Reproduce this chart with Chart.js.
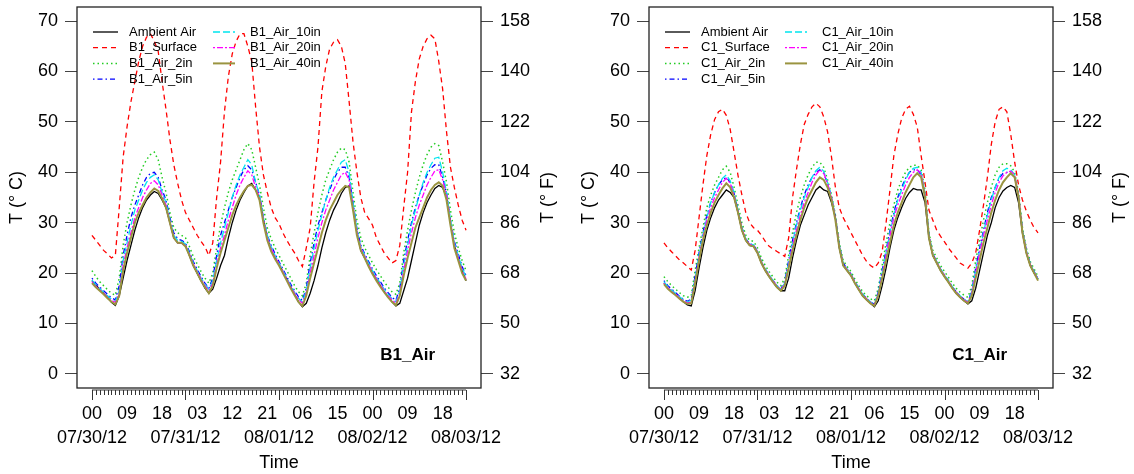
<!DOCTYPE html>
<html>
<head>
<meta charset="utf-8">
<script src="https://cdn.jsdelivr.net/npm/chart.js@4.4.1/dist/chart.umd.min.js"></script>
<style>
  html, body { margin: 0; padding: 0; background: #ffffff; }
  #wrap { position: relative; width: 1134px; height: 474px; background: #ffffff; overflow: hidden; }
  #c1 { position: absolute; left: 0; top: 0; }
  #c2 { position: absolute; left: 572px; top: 0; }
</style>
</head>
<body>
<div id="wrap">
  <canvas id="c1" width="567" height="474"></canvas>
  <canvas id="c2" width="562" height="474"></canvas>
</div>
<script>
// ---------- categories / tick labels ----------
const hours = Array.from({length: 97}, (_, i) => i); // hours since 07/30/12 00:00
const hourTickPos = [0, 9, 18, 27, 36, 45, 54, 63, 72, 81, 90];
const hourTickLabels = ['00', '09', '18', '03', '12', '21', '06', '15', '00', '09', '18'];
const dateTickPos = [0, 24, 48, 72, 96];
const dateTickLabels = ['07/30/12', '07/31/12', '08/01/12', '08/02/12', '08/03/12'];
const cTicks = [0, 10, 20, 30, 40, 50, 60, 70];
const fTicks = [32, 50, 68, 86, 104, 122, 140, 158];

// ---------- Panel B1 (deg C, hourly) ----------
const b1Ambient = [
  18.5,17.6,16.8,16.0,15.2,14.2,13.6,15.5,19.0,22.5,25.5,28.5,
  31.0,33.0,34.5,35.5,36.2,35.8,34.5,33.0,30.0,27.0,26.0,26.0,
  25.5,23.5,21.5,20.0,18.5,17.0,16.0,16.8,19.0,21.5,23.5,27.0,
  30.0,32.5,34.5,36.0,37.3,37.8,36.5,35.0,30.5,27.0,24.5,23.0,
  21.8,20.3,18.8,17.3,15.8,14.3,13.3,14.0,16.0,18.5,21.5,25.0,
  28.0,30.5,32.5,34.0,35.8,37.0,37.3,33.0,28.0,24.5,23.0,21.5,
  20.0,18.8,17.5,16.3,15.3,14.3,13.5,14.0,16.5,19.0,22.5,26.0,
  29.5,32.0,34.0,35.5,36.8,37.4,37.0,35.0,30.0,25.5,23.0,20.5,18.5];
const b1Surface = [
  27.5,26.5,25.5,24.5,23.8,23.0,23.5,33.0,43.0,49.0,54.0,58.0,
  62.0,65.0,66.8,67.5,66.0,64.0,58.0,52.5,46.5,41.5,37.8,34.5,
  32.0,30.5,29.0,27.5,26.3,25.2,23.5,26.0,35.0,42.0,52.0,59.0,
  63.5,66.0,67.5,67.5,65.0,62.0,53.0,45.0,39.5,36.0,33.0,31.0,
  29.8,28.0,26.5,25.2,24.0,22.5,21.3,25.0,29.0,38.0,45.0,56.0,
  61.0,64.5,65.8,66.3,65.0,61.6,54.0,46.0,40.0,35.0,32.0,30.8,
  29.5,27.0,25.5,24.0,23.0,22.0,22.5,25.5,33.0,40.0,52.0,58.0,
  62.5,65.0,66.5,67.2,66.5,62.0,56.5,48.0,41.0,37.0,33.5,30.5,28.5];
const b1Air2in = [
  20.5,19.3,18.3,17.5,16.7,16.0,15.6,19.0,25.5,30.0,33.5,36.5,
  39.0,41.0,42.5,43.5,44.0,42.5,39.0,36.0,32.0,29.0,28.0,27.5,
  27.0,25.3,23.3,21.8,20.3,19.0,18.0,20.0,25.0,29.5,33.0,36.0,
  38.5,40.5,42.5,44.5,45.7,44.5,41.0,37.5,33.0,29.0,26.8,25.0,
  23.5,22.0,20.5,19.0,17.5,16.3,15.5,18.0,23.5,28.0,32.0,35.5,
  38.5,40.5,42.5,44.0,44.8,44.5,42.0,36.0,30.5,27.0,25.0,23.5,
  22.0,20.7,19.5,18.3,17.2,16.3,15.8,18.0,24.0,28.5,32.5,36.0,
  39.0,41.5,43.5,45.0,45.7,45.3,42.0,38.0,32.5,28.0,25.0,22.5,20.5];
const b1Air5in = [
  19.0,18.0,17.2,16.5,15.8,15.1,14.7,17.5,23.5,27.5,31.0,33.5,
  35.5,37.5,39.0,39.8,40.0,39.0,36.5,34.5,31.0,28.0,26.8,26.5,
  26.0,24.3,22.3,20.8,19.3,18.0,17.0,19.0,23.5,27.5,30.0,32.5,
  35.0,37.0,39.0,40.5,41.3,40.5,38.0,35.5,31.0,27.5,25.5,23.8,
  22.3,20.8,19.3,17.8,16.5,15.3,14.6,17.0,22.0,26.0,29.5,32.0,
  34.5,36.5,38.5,40.0,41.0,41.0,39.0,34.0,28.8,25.5,23.8,22.3,
  20.8,19.5,18.3,17.1,16.1,15.2,14.6,17.0,22.5,26.5,30.0,33.0,
  35.5,37.5,39.5,40.8,41.5,41.5,39.0,35.8,30.5,26.3,23.8,21.3,19.5];
const b1Air10in = [
  18.6,17.7,16.9,16.2,15.5,14.8,14.4,16.5,22.5,26.0,29.5,32.5,
  34.5,36.5,38.0,39.0,39.5,38.5,36.0,34.0,30.5,27.5,26.5,26.3,
  25.8,24.0,22.0,20.5,19.0,17.8,16.8,18.5,22.5,26.0,29.0,32.0,
  35.0,37.5,39.5,41.0,42.5,41.5,38.0,35.5,31.0,27.5,25.2,23.5,
  22.0,20.5,19.0,17.5,16.2,15.0,14.3,16.5,21.0,25.0,28.5,31.5,
  34.5,37.0,39.0,40.5,42.0,42.5,40.0,34.0,28.5,25.3,23.5,22.0,
  20.5,19.2,18.0,16.8,15.8,14.9,14.3,16.5,21.5,25.5,29.5,32.5,
  35.5,38.0,40.0,41.5,42.8,43.0,40.0,36.0,30.5,26.0,23.5,21.0,19.2];
const b1Air20in = [
  18.3,17.4,16.7,16.0,15.2,14.6,14.2,16.0,21.5,25.0,28.0,31.0,
  33.0,35.0,36.5,37.8,38.3,37.5,35.5,33.5,30.0,27.0,26.0,26.0,
  25.5,23.8,21.8,20.3,18.8,17.5,16.5,18.0,21.5,25.0,27.5,30.5,
  33.0,35.5,37.5,39.0,40.3,39.5,37.0,35.0,30.5,27.0,24.8,23.2,
  21.8,20.3,18.8,17.3,16.0,14.8,14.0,16.0,20.0,23.5,27.0,30.0,
  32.5,34.5,36.5,38.0,39.5,40.0,38.5,33.0,28.0,25.0,23.3,21.7,
  20.2,18.9,17.7,16.5,15.5,14.7,14.0,16.0,20.5,24.5,28.0,31.0,
  33.5,35.5,37.5,39.0,40.3,40.5,38.5,35.5,30.0,25.5,23.0,20.5,18.8];
const b1Air40in = [
  18.0,17.2,16.5,15.8,15.0,14.3,13.8,15.5,20.5,24.0,27.0,30.0,
  32.0,33.5,35.0,36.0,36.8,36.3,34.8,33.0,30.0,27.0,26.0,26.0,
  25.3,23.5,21.5,20.0,18.5,17.2,16.0,17.5,21.0,24.0,26.5,29.0,
  31.5,33.5,35.0,36.3,37.3,37.5,36.5,34.5,30.0,26.5,24.3,22.8,
  21.5,20.0,18.5,17.0,15.6,14.3,13.5,15.5,19.0,22.0,25.0,28.0,
  30.5,32.5,34.0,35.5,36.5,37.3,37.0,32.5,27.5,24.5,23.0,21.3,
  19.8,18.5,17.3,16.2,15.2,14.3,13.6,15.5,19.5,23.0,26.0,29.0,
  31.0,33.0,35.0,36.5,37.5,38.0,37.3,34.5,29.5,25.0,22.5,20.0,18.5];

// ---------- Panel C1 (deg C, hourly) ----------
const c1Ambient = [
  18.0,17.0,16.3,15.7,15.0,14.3,13.7,13.5,16.5,21.0,25.0,28.5,
  31.0,33.0,34.5,35.5,36.5,36.0,35.0,32.0,28.5,26.5,25.5,25.3,
  24.0,22.0,20.5,19.3,18.2,17.2,16.5,16.5,19.0,23.0,26.5,29.5,
  31.5,33.5,35.0,36.5,37.2,36.5,36.2,34.0,31.0,25.0,21.5,20.5,
  19.5,18.0,16.7,15.5,14.7,14.0,13.3,14.5,17.5,21.0,25.0,28.5,
  31.0,33.0,34.8,36.0,36.8,36.5,36.5,34.0,27.0,23.5,22.0,20.5,
  19.3,18.2,17.0,16.0,15.2,14.5,13.9,14.5,17.0,20.5,24.0,27.5,
  30.0,33.0,35.0,36.3,37.0,37.4,37.0,34.0,28.0,24.0,21.5,20.0,18.8];
const c1Surface = [
  26.0,25.0,24.2,23.4,22.6,22.0,21.3,20.6,24.5,31.0,37.5,43.3,
  47.5,50.5,52.0,52.5,51.3,48.5,44.0,39.4,35.5,32.0,30.0,29.0,
  28.5,27.5,26.3,25.3,24.8,24.3,23.8,23.3,27.0,35.0,40.5,45.5,
  49.5,51.5,53.0,53.7,53.0,51.0,48.0,43.0,37.0,33.0,31.0,29.5,
  28.0,26.5,25.0,23.5,22.3,21.5,21.0,22.0,24.3,30.0,36.5,43.3,
  47.5,50.7,52.5,53.1,51.5,49.0,43.3,38.0,32.5,30.5,28.5,27.3,
  26.2,25.0,24.0,23.0,22.0,21.5,21.0,22.0,24.0,28.5,33.5,39.0,
  45.5,50.0,52.5,53.0,52.0,47.5,42.0,37.5,34.5,32.3,30.5,29.0,28.0];
const c1Air2in = [
  19.3,18.3,17.5,16.8,16.1,15.5,15.2,15.5,20.5,25.0,29.0,33.0,
  35.5,37.5,39.0,40.5,41.2,40.0,37.0,33.5,30.0,27.5,26.5,26.3,
  25.0,23.0,21.5,20.3,19.2,18.2,17.5,19.0,23.5,28.0,32.0,35.0,
  37.5,39.5,41.0,42.0,42.0,41.0,38.5,35.5,31.5,26.0,22.5,21.3,
  20.3,18.8,17.5,16.3,15.5,14.9,14.5,17.0,21.5,26.0,30.0,33.5,
  36.5,38.5,40.0,41.0,41.4,41.4,40.5,36.5,28.0,24.5,23.0,21.5,
  20.3,19.2,18.0,17.0,16.2,15.6,15.2,17.5,22.5,26.5,30.5,34.0,
  37.0,39.5,41.0,41.7,41.7,41.3,40.0,36.0,29.0,25.0,22.3,20.8,19.3];
const c1Air5in = [
  18.5,17.5,16.8,16.1,15.4,14.8,14.4,14.8,19.5,24.0,28.0,31.5,
  34.0,36.0,37.5,38.5,39.0,38.0,35.8,32.5,29.0,26.8,25.8,25.6,
  24.3,22.3,20.8,19.6,18.5,17.5,16.8,18.3,22.5,26.5,30.0,33.0,
  35.5,37.5,39.0,40.0,40.5,39.8,37.8,35.0,31.0,25.5,22.0,20.8,
  19.8,18.3,17.0,15.8,15.0,14.3,13.8,16.3,20.5,24.5,28.5,32.0,
  35.0,37.0,38.8,40.0,40.5,40.5,39.5,35.5,27.5,23.8,22.3,20.8,
  19.6,18.5,17.3,16.3,15.5,14.8,14.3,16.5,21.0,25.0,28.5,32.0,
  35.0,37.0,38.8,39.8,40.0,39.8,39.0,35.3,28.5,24.5,21.8,20.3,18.8];
const c1Air10in = [
  18.3,17.3,16.6,16.0,15.3,14.7,14.3,14.6,19.0,23.5,27.5,31.0,
  34.0,36.0,37.5,38.8,39.5,38.3,36.0,32.5,29.0,26.8,25.8,25.6,
  24.3,22.3,20.8,19.6,18.5,17.5,16.8,18.0,22.0,26.0,29.5,32.5,
  35.0,37.0,39.0,40.3,41.0,40.2,38.0,35.2,31.0,25.5,22.0,20.8,
  19.8,18.3,17.0,15.8,15.0,14.3,13.8,16.0,20.0,24.0,28.0,31.5,
  34.5,36.5,38.5,40.0,40.8,41.0,40.0,35.8,27.5,23.8,22.3,20.8,
  19.6,18.5,17.3,16.3,15.5,14.8,14.3,16.3,20.5,24.5,28.0,31.5,
  34.5,37.0,39.0,40.3,40.8,40.5,39.5,35.5,28.5,24.5,21.8,20.3,18.8];
const c1Air20in = [
  18.0,17.1,16.4,15.8,15.1,14.5,14.1,14.3,18.5,23.0,27.0,30.5,
  33.0,35.0,36.5,38.0,38.8,37.8,35.5,32.3,28.8,26.7,25.7,25.5,
  24.2,22.2,20.7,19.5,18.4,17.4,16.7,17.8,21.5,25.5,28.5,31.5,
  34.0,36.0,38.0,39.5,40.5,39.8,37.8,35.0,30.8,25.3,21.8,20.7,
  19.7,18.2,16.9,15.7,14.9,14.2,13.7,15.8,19.5,23.5,27.5,31.0,
  33.5,35.5,37.5,39.0,40.0,40.5,39.8,35.5,27.3,23.7,22.2,20.7,
  19.5,18.4,17.2,16.2,15.4,14.7,14.2,16.0,20.0,24.0,27.5,30.5,
  33.5,36.0,38.0,39.3,40.0,40.2,39.5,35.3,28.3,24.3,21.7,20.2,18.7];
const c1Air40in = [
  17.8,16.9,16.2,15.6,14.9,14.3,13.9,14.0,18.0,22.5,26.5,29.5,
  32.0,34.0,35.5,36.8,37.8,37.0,35.0,32.0,28.5,26.5,25.5,25.3,
  24.0,22.0,20.5,19.3,18.2,17.2,16.5,17.5,21.0,24.5,27.5,30.5,
  33.0,35.0,36.5,38.0,39.0,38.5,37.0,34.5,30.5,25.0,21.5,20.5,
  19.5,18.0,16.7,15.5,14.7,14.0,13.5,15.5,19.0,22.5,26.0,29.5,
  32.0,34.0,36.0,37.5,39.0,39.8,39.0,35.0,27.0,23.5,22.0,20.5,
  19.3,18.2,17.0,16.0,15.2,14.5,14.0,15.5,19.0,22.5,26.0,29.0,
  32.0,34.5,36.5,38.0,39.0,39.8,39.0,35.0,28.0,24.0,21.5,20.0,18.5];

// ---------- styles (not data) ----------
const FONT = '"Liberation Sans", Arial, Helvetica, sans-serif';
Chart.defaults.font.family = FONT;
Chart.defaults.color = '#000';

const styleList = [
  { color: '#000000', dash: [],           width: 1.3, order: 7 },
  { color: '#ff0000', dash: [5, 4],       width: 1.3, order: 6 },
  { color: '#22cc22', dash: [1.5, 3],     width: 1.5, order: 5 },
  { color: '#0000ff', dash: [1.5, 3, 5, 3], width: 1.3, order: 4 },
  { color: '#00e5ee', dash: [7, 3],       width: 1.3, order: 3 },
  { color: '#ff00ff', dash: [2, 2, 6, 2], width: 1.3, order: 2 },
  { color: '#9a9440', dash: [],           width: 2.0, order: 1 }
];

const cToF = c => c * 1.8 + 32;
const Y_MIN = -2.8, Y_MAX = 72.8;

function buildDatasets(names, seriesArrays) {
  return seriesArrays.map((arr, i) => ({
    label: names[i],
    data: arr,
    borderColor: styleList[i].color,
    backgroundColor: styleList[i].color,
    borderDash: styleList[i].dash,
    borderWidth: styleList[i].width,
    order: styleList[i].order,
    pointRadius: 0,
    tension: 0,
    fill: false,
    yAxisID: 'y'
  }));
}

const decorPlugin = {
  id: 'decor',
  afterDraw(chart, args, opts) {
    const ctx = chart.ctx;
    const a = chart.chartArea;
    const xs = chart.scales.x;
    ctx.save();
    // plot frame
    ctx.strokeStyle = '#222';
    ctx.lineWidth = 1.3;
    ctx.strokeRect(a.left, a.top, a.right - a.left, a.bottom - a.top);
    // time axis: hourly minor ticks, daily major ticks
    ctx.strokeStyle = '#333';
    ctx.lineWidth = 1;
    ctx.beginPath();
    const yb = a.bottom + 2;
    ctx.moveTo(xs.getPixelForValue(hours[0]), yb);
    ctx.lineTo(xs.getPixelForValue(hours[hours.length - 1]), yb);
    hours.forEach(h => {
      const px = Math.round(xs.getPixelForValue(h)) + 0.5;
      const len = dateTickPos.includes(h) ? 10 : 5;
      ctx.moveTo(px, yb);
      ctx.lineTo(px, yb + len);
    });
    ctx.stroke();
    // legend (two columns)
    ctx.font = '13px ' + FONT;
    ctx.textBaseline = 'middle';
    ctx.textAlign = 'left';
    chart.data.datasets.forEach((ds, i) => {
      const col = i < 4 ? 0 : 1;
      const row = i < 4 ? i : i - 4;
      const yRow = a.top + 25 + row * 15.7;
      const x0 = a.left + (col === 0 ? 16 : 136);
      const x1 = x0 + (col === 0 ? 25 : 22);
      ctx.save();
      ctx.strokeStyle = ds.borderColor;
      ctx.lineWidth = ds.borderWidth;
      ctx.setLineDash(ds.borderDash);
      ctx.beginPath();
      ctx.moveTo(x0, yRow);
      ctx.lineTo(x1, yRow);
      ctx.stroke();
      ctx.restore();
      ctx.fillStyle = '#000';
      ctx.fillText(ds.label, a.left + (col === 0 ? 52 : 173), yRow);
    });
    // panel label
    ctx.font = 'bold 17px ' + FONT;
    ctx.textAlign = 'right';
    ctx.fillText(opts.panel, a.right - 46, a.bottom - 33);
    // right axis title (reads bottom-to-top)
    ctx.font = '18px ' + FONT;
    ctx.textAlign = 'center';
    ctx.translate(a.right + 67, (a.top + a.bottom) / 2);
    ctx.rotate(-Math.PI / 2);
    ctx.fillText('T (° F)', 0, 0);
    ctx.restore();
  }
};

function makeChart(canvasId, names, seriesArrays, panel, rightWidth) {
  const xTickSet = Array.from(new Set(hourTickPos.concat(dateTickPos))).sort((p, q) => p - q);
  return new Chart(document.getElementById(canvasId), {
    type: 'line',
    data: { labels: hours, datasets: buildDatasets(names, seriesArrays) },
    plugins: [decorPlugin],
    options: {
      responsive: false,
      animation: false,
      devicePixelRatio: 1,
      layout: { padding: { top: 7, left: 0, right: 0, bottom: 0 } },
      plugins: {
        legend: { display: false },
        tooltip: { enabled: false },
        decor: { panel: panel }
      },
      scales: {
        x: {
          type: 'linear',
          min: -3.84,
          max: 99.84,
          afterBuildTicks: s => { s.ticks = xTickSet.map(v => ({ value: v })); },
          afterFit: s => { s.height = 86; s.paddingLeft = 0; s.paddingRight = 0; },
          grid: { display: false, drawTicks: false },
          border: { display: false },
          ticks: {
            autoSkip: false,
            maxRotation: 0,
            minRotation: 0,
            padding: 15,
            font: { size: 18, lineHeight: 1.28 },
            color: '#000',
            callback: v => {
              const hi = hourTickPos.indexOf(v);
              const di = dateTickPos.indexOf(v);
              return [hi >= 0 ? hourTickLabels[hi] : '', di >= 0 ? dateTickLabels[di] : ''];
            }
          },
          title: { display: true, text: 'Time', font: { size: 18, lineHeight: 1.2 }, padding: { top: 0, bottom: 0 }, color: '#000' }
        },
        y: {
          type: 'linear',
          position: 'left',
          min: Y_MIN,
          max: Y_MAX,
          afterBuildTicks: s => { s.ticks = cTicks.map(v => ({ value: v })); },
          afterFit: s => { s.width = 77; s.paddingTop = 0; s.paddingBottom = 0; },
          grid: { drawOnChartArea: false, drawTicks: true, tickLength: 12, tickColor: '#444', tickWidth: 1 },
          border: { display: false },
          ticks: { padding: 7, font: { size: 18 }, color: '#000' },
          title: { display: true, text: 'T (° C)', font: { size: 18, lineHeight: 1.2 }, padding: { top: 6, bottom: 0 }, color: '#000' }
        },
        y2: {
          type: 'linear',
          position: 'right',
          min: cToF(Y_MIN),
          max: cToF(Y_MAX),
          afterBuildTicks: s => { s.ticks = fTicks.map(v => ({ value: v })); },
          afterFit: s => { s.width = rightWidth; s.paddingTop = 0; s.paddingBottom = 0; },
          grid: { drawOnChartArea: false, drawTicks: true, tickLength: 12, tickColor: '#444', tickWidth: 1 },
          border: { display: false },
          ticks: { padding: 7, font: { size: 18 }, color: '#000' }
        }
      }
    }
  });
}

makeChart('c1',
  ['Ambient Air', 'B1_Surface', 'B1_Air_2in', 'B1_Air_5in', 'B1_Air_10in', 'B1_Air_20in', 'B1_Air_40in'],
  [b1Ambient, b1Surface, b1Air2in, b1Air5in, b1Air10in, b1Air20in, b1Air40in],
  'B1_Air', 86);
makeChart('c2',
  ['Ambient Air', 'C1_Surface', 'C1_Air_2in', 'C1_Air_5in', 'C1_Air_10in', 'C1_Air_20in', 'C1_Air_40in'],
  [c1Ambient, c1Surface, c1Air2in, c1Air5in, c1Air10in, c1Air20in, c1Air40in],
  'C1_Air', 81);
</script>
</body>
</html>
